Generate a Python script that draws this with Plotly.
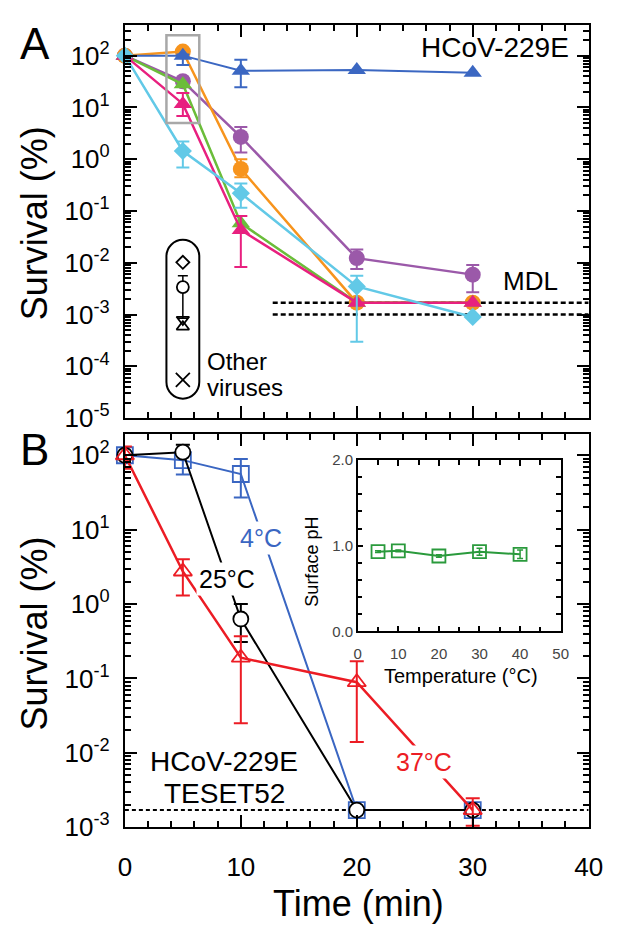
import plotly.graph_objects as go

W, H = 622, 926
FONT = "Liberation Sans, Arial, sans-serif"

# ---------------- data : panel A ----------------
time_a = [0, 5, 10, 20, 30]
hcov_y = [100, 100, 51, 53, 47]
hcov_hi = [None, 105, 83, None, None]
hcov_lo = [None, 66, 24.5, None, None]

orange_y = [100, 120, 0.65, 1.7e-3, 1.7e-3]
orange_hi = [None, None, 1.0, None, None]
orange_lo = [None, None, 0.45, None, None]

purple_y = [100, 32, 2.7, 0.0123, 0.0059]
purple_hi = [None, None, 4.2, 0.018, 0.0091]
purple_lo = [None, None, 1.35, 0.0076, 0.0027]

green_y = [100, 28, 0.058, 1.7e-3, 1.7e-3]
green_hi = [None, None, None, None, None]
green_lo = [None, None, None, None, None]

magenta_y = [100, 11.7, 0.043, 1.7e-3, 1.7e-3]
magenta_hi = [None, 19, 0.08, None, None]
magenta_lo = [None, 6.8, 0.0083, None, None]

cyan_y = [100, 1.44, 0.22, 0.0035, 9e-4]
cyan_hi = [None, 2.2, 0.34, 0.0056, None]
cyan_lo = [None, 0.69, 0.115, 3e-4, None]

# other viruses (at 5 min)
other_t = 5
other_diamond = 0.0102
other_circle = 0.0034
other_circle_hi = 0.0056
other_circle_lo = 8.5e-4
other_tri_down = 8.0e-4
other_tri_up = 5.8e-4
other_x = 5.5e-5

mdl_a = [1.7e-3, 1.0e-3]
mdl_a_start = 12.75

# ---------------- data : panel B ----------------
time_b = [0, 5, 10, 20, 30]
c4_y = [100, 86, 56, 1.7e-3, 1.7e-3]
c4_hi = [None, 105, 89, None, None]
c4_lo = [None, 55, 27, None, None]

c25_y = [100, 110, 0.63, 1.7e-3, 1.7e-3]
c25_hi = [None, 139, 1.0, None, None]
c25_lo = [None, 108, 0.31, None, None]

c37_y = [100, 2.74, 0.19, 0.089, 1.7e-3]
c37_hi = [131, 4.0, 0.37, 0.17, 2.45e-3]
c37_lo = [66, 1.3, 0.025, 0.014, 1.05e-3]

mdl_b = 1.7e-3

# inset
temp = [5, 10, 20, 30, 40]
ph = [0.93, 0.94, 0.88, 0.93, 0.90]
ph_err = [0.01, 0.01, 0.015, 0.04, 0.05]

ticks_a = [1e-5, 1e-4, 1e-3, 1e-2, 1e-1, 1, 10, 100]
ticks_a_text = ["10<sup>-5</sup>", "10<sup>-4</sup>", "10<sup>-3</sup>", "10<sup>-2</sup>",
                "10<sup>-1</sup>", "10<sup>0</sup>", "10<sup>1</sup>", "10<sup>2</sup>"]
ticks_b = [1e-3, 1e-2, 1e-1, 1, 10, 100]
ticks_b_text = ["10<sup>-3</sup>", "10<sup>-2</sup>", "10<sup>-1</sup>",
                "10<sup>0</sup>", "10<sup>1</sup>", "10<sup>2</sup>"]

# ---------------- colours ----------------
C_BLUE = "#3b67c2"
C_ORANGE = "#f7941d"
C_PURPLE = "#9b59a9"
C_GREEN = "#6bbd3a"
C_MAGENTA = "#e8207f"
C_CYAN = "#62c9e7"
C_B_BLUE = "#3a66c2"
C_RED = "#ec1c24"
C_INSET = "#2a9a3c"


def px(x):
    return x / W


def py(y):
    return 1 - y / H


fig = go.Figure()


def err_trace(t, y, hi, lo, color, xa, ya, width=6.5, thick=2):
    xs, ys, up, dn = [], [], [], []
    for ti, yi, h, l in zip(t, y, hi, lo):
        if h is None and l is None:
            continue
        xs.append(ti)
        ys.append(yi)
        up.append((h if h is not None else yi) - yi)
        dn.append(yi - (l if l is not None else yi))
    if not xs:
        return
    fig.add_trace(go.Scatter(
        x=xs, y=ys, mode="markers", xaxis=xa, yaxis=ya,
        marker=dict(size=1, color="rgba(0,0,0,0)"),
        error_y=dict(type="data", symmetric=False, array=up, arrayminus=dn,
                     color=color, thickness=thick, width=width),
        cliponaxis=False, showlegend=False, hoverinfo="skip"))


def series(t, y, hi, lo, color, symbol, size, xa, ya, lw=2.5, mline=None,
           mcolor=None, ewidth=6.5):
    err_trace(t, y, hi, lo, color, xa, ya, width=ewidth)
    fig.add_trace(go.Scatter(
        x=t, y=y, mode="lines+markers", xaxis=xa, yaxis=ya,
        line=dict(color=color, width=lw),
        marker=dict(symbol=symbol, size=size,
                    color=mcolor if mcolor else color,
                    line=mline if mline else dict(width=0)),
        cliponaxis=False, showlegend=False))


# panel A series (bottom -> top)
series(time_a, purple_y, purple_hi, purple_lo, C_PURPLE, "circle", 16, "x", "y")
series(time_a, orange_y, orange_hi, orange_lo, C_ORANGE, "circle", 16, "x", "y")
series(time_a, hcov_y, hcov_hi, hcov_lo, C_BLUE, "triangle-up", 16, "x", "y", lw=2)
series(time_a, green_y, green_hi, green_lo, C_GREEN, "triangle-up", 16, "x", "y")
series(time_a, magenta_y, magenta_hi, magenta_lo, C_MAGENTA, "triangle-up", 16, "x", "y")
series(time_a, cyan_y, cyan_hi, cyan_lo, C_CYAN, "diamond", 14, "x", "y")

# other viruses markers
err_trace([other_t], [other_circle], [other_circle_hi], [other_circle_lo], "black",
          "x", "y", width=5, thick=1.5)
for val, sym, sz in [(other_diamond, "diamond-open", 10),
                     (other_circle, "circle", 12),
                     (other_tri_down, "triangle-down-open", 11),
                     (other_tri_up, "triangle-up-open", 11),
                     (other_x, "x-thin-open", 14)]:
    fig.add_trace(go.Scatter(
        x=[other_t], y=[val], mode="markers", xaxis="x", yaxis="y",
        marker=dict(symbol=sym, size=sz, color="white" if sym == "circle" else "black",
                    line=dict(color="black", width=1.8)),
        cliponaxis=False, showlegend=False))

# panel B series
series(time_b, c4_y, c4_hi, c4_lo, C_B_BLUE, "square-open", 16, "x2", "y2", lw=2,
       mline=dict(color=C_B_BLUE, width=1.8), ewidth=7)
series(time_b, c25_y, c25_hi, c25_lo, "black", "circle", 15, "x2", "y2", lw=2,
       mline=dict(color="black", width=1.8), mcolor="white", ewidth=7)
series(time_b, c37_y, c37_hi, c37_lo, C_RED, "triangle-up-open", 16, "x2", "y2", lw=2.5,
       mline=dict(color=C_RED, width=1.8), ewidth=7)

# inset
fig.add_trace(go.Scatter(
    x=temp, y=ph, mode="lines+markers", xaxis="x3", yaxis="y3",
    line=dict(color=C_INSET, width=2),
    marker=dict(symbol="square-open", size=13, color=C_INSET, line=dict(color=C_INSET, width=1.8)),
    error_y=dict(type="data", array=ph_err, color=C_INSET, thickness=1.5, width=3),
    cliponaxis=False, showlegend=False))

# ---------------- axes ----------------
minor_a = [m * 10 ** k for k in range(-5, 3) for m in range(2, 10)]
minor_b = [m * 10 ** k for k in range(-3, 3) for m in range(2, 10)]

xcommon = dict(range=[0, 40], showline=True, linecolor="black", linewidth=2,
               mirror="ticks", ticks="inside", ticklen=12, tickwidth=2, tickcolor="black",
               tick0=0, dtick=10, showgrid=False, zeroline=False,
               minor=dict(dtick=2, ticks="inside", ticklen=6, tickwidth=1.5,
                          tickcolor="black", showgrid=False))
ycommon = dict(type="log", showline=True, linecolor="black", linewidth=2,
               mirror="ticks", ticks="inside", ticklen=12, tickwidth=2, tickcolor="black",
               showgrid=False, zeroline=False, tickmode="array",
               tickfont=dict(family=FONT, size=26, color="black"), ticklabelstandoff=8)

fig.update_layout(
    width=W, height=H, margin=dict(l=0, r=0, t=0, b=0),
    paper_bgcolor="white", plot_bgcolor="white", showlegend=False,
    font=dict(family=FONT, color="black"),
    xaxis=dict(xcommon, domain=[px(122), px(602)], anchor="y", showticklabels=False),
    yaxis=dict(ycommon, domain=[py(420), py(16)], anchor="x", range=[-5, 2.6],
               tickvals=ticks_a, ticktext=ticks_a_text,
               minor=dict(tickmode="array", tickvals=minor_a, ticks="inside", ticklen=6,
                          tickwidth=1.5, tickcolor="black", showgrid=False)),
    xaxis2=dict(xcommon, domain=[px(122), px(602)], anchor="y2", showticklabels=True,
                tickfont=dict(family=FONT, size=26, color="black"), ticklabelstandoff=16),
    yaxis2=dict(ycommon, domain=[py(840), py(436)], anchor="x2", range=[-3, 2.29],
                tickvals=ticks_b, ticktext=ticks_b_text,
                minor=dict(tickmode="array", tickvals=minor_b, ticks="inside", ticklen=6,
                           tickwidth=1.5, tickcolor="black", showgrid=False)),
    xaxis3=dict(domain=[px(363), px(573)], anchor="y3", range=[0, 50], dtick=10, tick0=0,
                showline=True, linecolor="black", linewidth=1.5, mirror="ticks",
                ticks="inside", ticklen=6, tickwidth=1.5, tickcolor="black",
                showgrid=False, zeroline=False, ticklabelstandoff=8,
                tickfont=dict(family=FONT, size=15, color="#444"),
                minor=dict(dtick=5, ticks="inside", ticklen=5, tickwidth=1.5,
                           tickcolor="black", showgrid=False)),
    yaxis3=dict(domain=[py(639), py(463)], anchor="x3", range=[0, 2], dtick=1, tick0=0,
                tickformat=".1f",
                showline=True, linecolor="black", linewidth=1.5, mirror="ticks",
                ticks="inside", ticklen=6, tickwidth=1.5, tickcolor="black",
                showgrid=False, zeroline=False,
                tickfont=dict(family=FONT, size=15, color="#444"),
                minor=dict(dtick=0.2, ticks="inside", ticklen=5, tickwidth=1.5,
                           tickcolor="black", showgrid=False)),
)

# ---------------- shapes ----------------
shapes = []
for m in mdl_a:
    shapes.append(dict(type="line", xref="x", yref="y", x0=mdl_a_start, x1=40, y0=m, y1=m,
                       line=dict(color="black", width=2.5, dash="5px,3px"), layer="below"))
shapes.append(dict(type="line", xref="x2", yref="y2", x0=0, x1=40, y0=mdl_b, y1=mdl_b,
                   line=dict(color="black", width=2, dash="4px,3px"), layer="below"))
# grey highlight box
shapes.append(dict(type="rect", xref="paper", yref="paper", x0=px(165), x1=px(199),
                   y0=py(117), y1=py(27), line=dict(color="#a8a8a8", width=2.5)))
# rounded "other viruses" box
L, R, T, B = 165, 199, 237, 400
r = (R - L) / 2
cx = (L + R) / 2
k = 0.5523 * r


def P(x, y):
    return f"{px(x):.5f},{py(y):.5f}"


path = (f"M {P(L, T + r)} C {P(L, T + r - k)} {P(cx - k, T)} {P(cx, T)} "
        f"C {P(cx + k, T)} {P(R, T + r - k)} {P(R, T + r)} "
        f"L {P(R, B - r)} C {P(R, B - r + k)} {P(cx + k, B)} {P(cx, B)} "
        f"C {P(cx - k, B)} {P(L, B - r + k)} {P(L, B - r)} Z")
shapes.append(dict(type="path", xref="paper", yref="paper", path=path,
                   line=dict(color="black", width=2)))
fig.update_layout(shapes=shapes)

# ---------------- annotations ----------------


def ann(text, x, y, size, color="black", xanchor="center", angle=0, bg=None):
    d = dict(text=text, xref="paper", yref="paper", x=px(x), y=py(y), showarrow=False,
             xanchor=xanchor, yanchor="middle", textangle=angle,
             font=dict(family=FONT, size=size, color=color))
    if bg:
        d["bgcolor"] = bg
        d["borderpad"] = 2
    fig.add_annotation(**d)


ann("A", 29, 35, 44)
ann("B", 28, 452, 44)
ann("Survival (%)", 28, 220, 36, angle=-90)
ann("Survival (%)", 28, 641, 36, angle=-90)
ann("Time (min)", 364, 918, 36)
ann("HCoV-229E", 505, 40, 28)
ann("MDL", 542, 279, 26)
ann("Other", 205, 362, 24, xanchor="left")
ann("viruses", 205, 389, 24, xanchor="left")
ann("4°C", 263, 543, 25, color=C_B_BLUE, bg="white")
ann("25°C", 228, 585, 25, bg="white")
ann("37°C", 432, 773, 25, color=C_RED, bg="white")
ann("HCoV-229E", 225, 773, 28)
ann("TESET52", 225, 805, 28)
ann("Surface pH", 316, 567, 18, angle=-90)
ann("Temperature (°C)", 470, 685, 20)

fig.write_html("out.html")
